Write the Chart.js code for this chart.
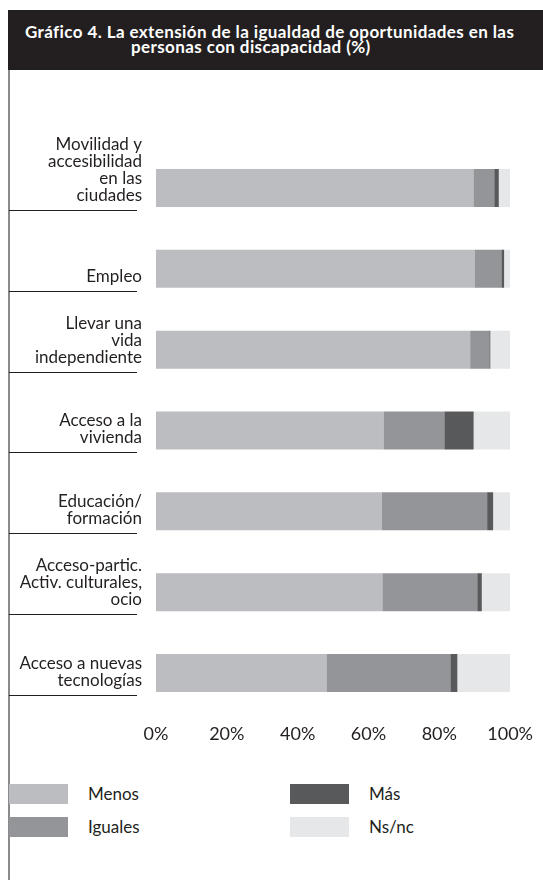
<!DOCTYPE html>
<html>
<head>
<meta charset="utf-8">
<script src="https://cdn.jsdelivr.net/npm/chart.js@4"></script>
<style>
    body { margin: 0; background: #fff; width: 543px; height: 882px; overflow: hidden; position: relative; font-family: Lato, sans-serif; }
    #header { position: absolute; left: 8px; top: 10px; width: 535px; height: 60px; background: #231f20; }
    .ttl { position: absolute; color: #fff; font-weight: bold; font-size: 17px; letter-spacing: 0.4px; white-space: nowrap; line-height: 15px; }
    #leftLine { position: absolute; left: 8px; top: 70px; width: 2px; height: 810px; background: #8a8a8a; }
    #wrap { position: absolute; left: 0; top: 70px; width: 543px; height: 700px; }
    .leg { position: absolute; font-size: 17px; color: #231f20; }
    .sw { position: absolute; width: 59px; height: 20px; }
</style>
</head>
<body>
<div id="header">
    <div class="ttl" style="left:17px; top:14px;">Gráfico 4. La extensión de la igualdad de oportunidades en las</div>
    <div class="ttl" style="left:123px; top:29px;">personas con discapacidad (%)</div>
</div>
<div id="leftLine"></div>
<div id="wrap"><canvas id="vulnsChart"></canvas></div>
<div id="legend"></div>
<script>
const categories = [
    ['Movilidad y', 'accesibilidad', 'en las', 'ciudades'],
    ['Empleo'],
    ['Llevar una', 'vida', 'independiente'],
    ['Acceso a la', 'vivienda'],
    ['Educación/', 'formación'],
    ['Acceso-partic.', 'Activ. culturales,', 'ocio'],
    ['Acceso a nuevas', 'tecnologías']
];
const seriesNames = ['Menos', 'Iguales', 'Más', 'Ns/nc'];
const menos = [89.6, 89.9, 88.7, 64.2, 63.8, 63.9, 48.1];
const iguales = [5.9, 7.6, 5.4, 17.2, 29.7, 26.8, 35.0];
const mas = [1.3, 0.8, 0.3, 8.3, 1.7, 1.3, 2.0];
const nsnc = [3.2, 1.7, 5.6, 10.3, 4.8, 8.0, 14.9];
const tickValues = [0, 20, 40, 60, 80, 100];

const COLORS = ['#bcbdc0', '#949598', '#58595b', '#e6e7e8'];
const seriesValues = [menos, iguales, mas, nsnc];

// category labels drawn bottom-aligned with an underline, like the print version
const sideLabels = {
    id: 'sideLabels',
    afterDraw(chart) {
        const ctx = chart.ctx;
        const yScale = chart.scales.y;
        const meta = chart.getDatasetMeta(0);
        ctx.save();
        ctx.font = '17px Lato';
        ctx.fillStyle = '#231f20';
        ctx.textAlign = 'right';
        ctx.textBaseline = 'alphabetic';
        chart.data.labels.forEach(function (lines, i) {
            var y = yScale.getPixelForValue(i);
            var bottom = y + meta.data[i].height / 2;
            for (var k = 0; k < lines.length; k++) {
                ctx.fillText(lines[k], 142, bottom - 6 - (lines.length - 1 - k) * 17);
            }
            ctx.beginPath();
            ctx.strokeStyle = '#231f20';
            ctx.lineWidth = 1;
            ctx.moveTo(9, Math.round(bottom + 3) + 0.5);
            ctx.lineTo(137, Math.round(bottom + 3) + 0.5);
            ctx.stroke();
        });
        ctx.restore();
    }
};

const chart = new Chart(document.getElementById('vulnsChart').getContext('2d'), {
    type: 'bar',
    data: {
        labels: categories,
        datasets: seriesNames.map(function (name, i) {
            return {
                label: name,
                data: seriesValues[i],
                backgroundColor: COLORS[i],
                borderWidth: 0,
                categoryPercentage: 1,
                barPercentage: 0.47
            };
        })
    },
    options: {
        indexAxis: 'y',
        responsive: true,
        maintainAspectRatio: false,
        animation: false,
        layout: {
            padding: {top: 77.6, left: 156, right: 28, bottom: 15}
        },
        plugins: {
            legend: {display: false},
            tooltip: {enabled: false}
        },
        scales: {
            x: {
                stacked: true,
                min: 0,
                max: 100,
                afterBuildTicks: function (axis) {
                    axis.ticks = tickValues.map(function (v) { return {value: v}; });
                },
                ticks: {
                    padding: 10,
                    color: '#231f20',
                    font: {family: 'Lato', size: 18},
                    maxRotation: 0,
                    callback: function (v) { return v + '%'; }
                },
                grid: {display: false, drawTicks: false},
                border: {display: false}
            },
            y: {
                stacked: true,
                display: false
            }
        }
    },
    plugins: [sideLabels]
});

// legend in two columns
var legend = document.getElementById('legend');
var legPos = [[9, 784], [9, 817], [290, 784], [290, 817]];
seriesNames.forEach(function (name, i) {
    var sw = document.createElement('div');
    sw.className = 'sw';
    sw.style.left = legPos[i][0] + 'px';
    sw.style.top = legPos[i][1] + 'px';
    sw.style.background = COLORS[i];
    legend.appendChild(sw);
    var t = document.createElement('div');
    t.className = 'leg';
    t.textContent = name;
    t.style.left = (legPos[i][0] + 79) + 'px';
    t.style.top = (legPos[i][1] - 1) + 'px';
    legend.appendChild(t);
});
</script>
</body>
</html>
